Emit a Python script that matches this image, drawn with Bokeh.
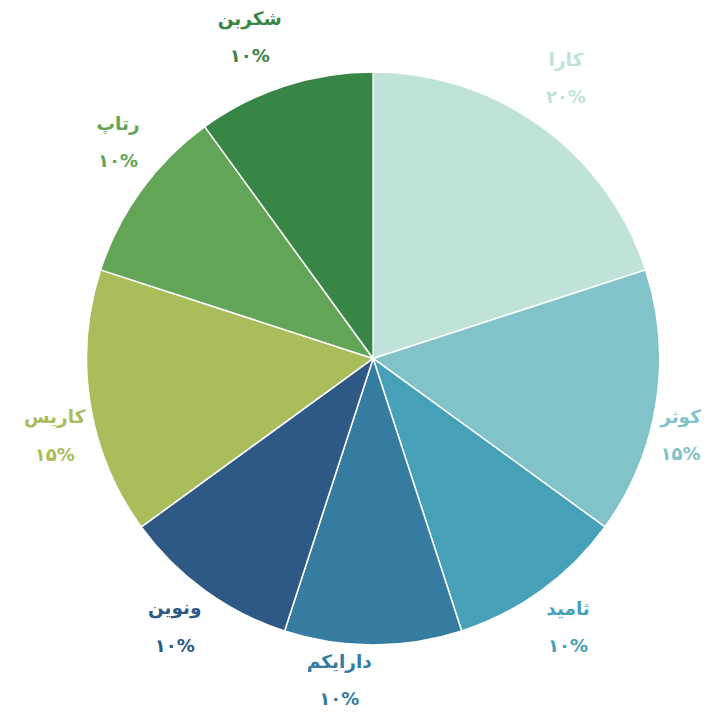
import math
from bokeh.plotting import figure
from bokeh.models import ColumnDataSource
from bokeh.core.properties import value
from bokeh.embed import file_html
from bokeh.resources import INLINE

names = ["کارا", "کوثر", "ثامید", "دارایکم", "ونوین", "کاریس", "رتاپ", "شکربن"]
values = [20, 15, 10, 10, 10, 15, 10, 10]
pct_labels = ["۲۰%", "۱۵%", "۱۰%", "۱۰%", "۱۰%", "۱۵%", "۱۰%", "۱۰%"]
colors = ["#bfe3d8", "#82c3c9", "#46a0b8", "#357ca0", "#2e5984", "#a9bd5a", "#62a557", "#378648"]

# label layout: angular nudge (deg, clockwise) and label radius (px, reference scale)
label_nudge = [-1.5, 5, 0, 6, 0.5, -4.6, 4.3, -3]
label_rad = [348, 324, 339, 331, 341, 335, 342, 352]

W, H = 711, 710
s = W / 727.0
cx, cy, R = 381 * s, H - 366 * s, 293 * s

total = sum(values)
starts, ends, lx, ly_name, ly_pct = [], [], [], [], []
cum = 0
for v, nd, lr in zip(values, label_nudge, label_rad):
    a0 = cum / total * 360
    cum += v
    a1 = cum / total * 360
    starts.append(math.radians(90 - a0))
    ends.append(math.radians(90 - a1))
    mid = (a0 + a1) / 2 + nd
    x = cx + lr * s * math.sin(math.radians(mid))
    y = cy + lr * s * math.cos(math.radians(mid))
    lx.append(x)
    ly_name.append(y + 19 * s)
    ly_pct.append(y - 19 * s)

src = ColumnDataSource(dict(start=starts, end=ends, color=colors, name=names, pct=pct_labels,
                            lx=lx, lyn=ly_name, lyp=ly_pct))

p = figure(width=W, height=H, x_range=(0, W), y_range=(0, H), output_backend="svg",
           toolbar_location=None, min_border=0)
p.axis.visible = False
p.grid.visible = False
p.outline_line_color = None
p.background_fill_color = "white"

p.wedge(x=cx, y=cy, radius=R, start_angle="start", end_angle="end", direction="clock",
        fill_color="color", line_color="white", line_width=1.5, source=src)

p.text(x="lx", y="lyn", text="name", text_color="color", text_align="center",
       text_baseline="middle", text_font=value("DejaVu Sans"), text_font_style="bold",
       text_font_size="18.5px", source=src)
p.text(x="lx", y="lyp", text="pct", text_color="color", text_align="center",
       text_baseline="middle", text_font=value("DejaVu Sans"), text_font_style="bold",
       text_font_size="18px", source=src)

open("out.html", "w").write(file_html(p, INLINE))
